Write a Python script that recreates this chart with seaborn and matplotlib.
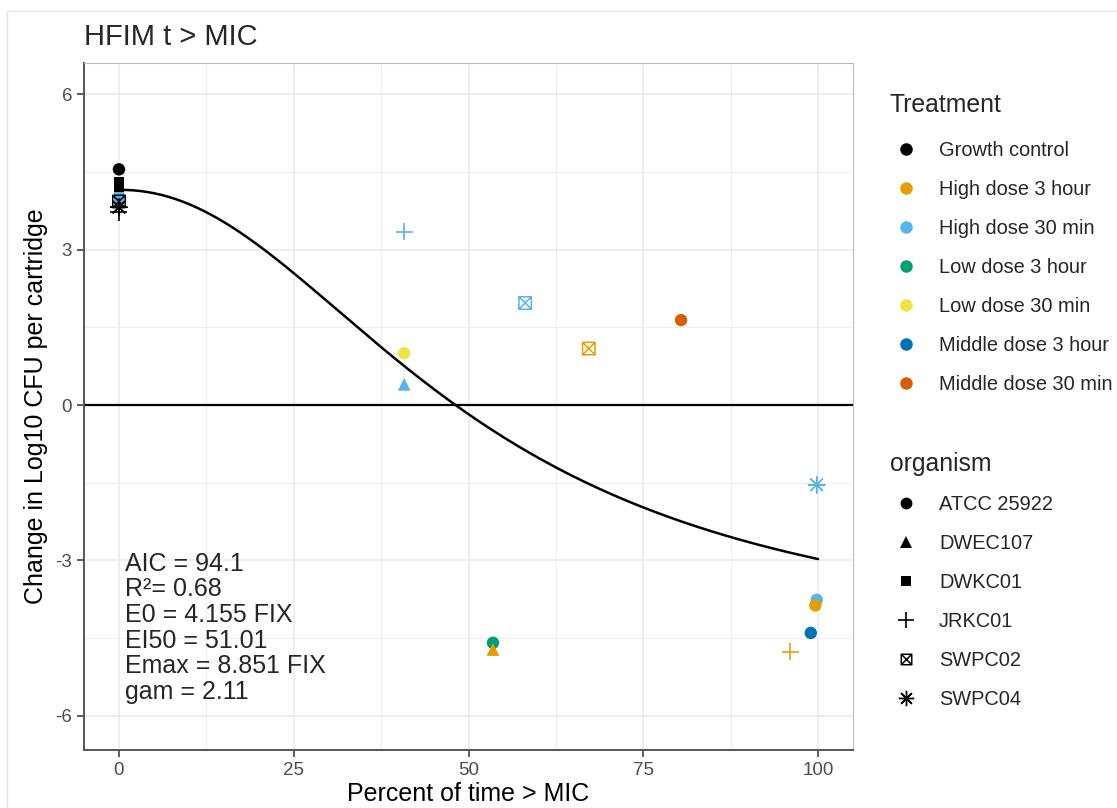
"""
HFIM t > MIC: change in log10 CFU vs percent of time above MIC
"""

import numpy as np
import pandas as pd
import seaborn as sns
import matplotlib.pyplot as plt
from matplotlib.path import Path
from matplotlib.lines import Line2D
from matplotlib.ticker import MultipleLocator

# data
pct_time = [0, 0, 0, 0, 0, 0, 0,
            40.8, 58.1, 67.2, 80.4, 40.8, 40.8, 53.5, 53.5,
            99.8, 99.8, 99.6, 98.95, 96.0]
log_change = [4.55, 4.30, 4.20, 4.00, 3.93, 3.82, 3.72,
              3.35, 1.97, 1.09, 1.64, 1.00, 0.40, -4.59, -4.72,
              -1.54, -3.76, -3.87, -4.40, -4.76]
treatment = ["Growth control", "Growth control", "Growth control", "High dose 30 min",
             "Growth control", "Growth control", "Growth control",
             "High dose 30 min", "High dose 30 min", "High dose 3 hour", "Middle dose 30 min",
             "Low dose 30 min", "High dose 30 min", "Low dose 3 hour", "High dose 3 hour",
             "High dose 30 min", "High dose 30 min", "High dose 3 hour", "Middle dose 3 hour",
             "High dose 3 hour"]
organism = ["ATCC 25922", "DWKC01", "DWKC01", "DWKC01", "SWPC02", "SWPC04", "JRKC01",
            "JRKC01", "SWPC02", "SWPC02", "ATCC 25922", "ATCC 25922", "DWEC107",
            "ATCC 25922", "DWEC107", "SWPC04", "ATCC 25922", "ATCC 25922", "ATCC 25922",
            "JRKC01"]

treatments = ["Growth control", "High dose 3 hour", "High dose 30 min", "Low dose 3 hour",
              "Low dose 30 min", "Middle dose 3 hour", "Middle dose 30 min"]
treatment_colors = ["#000000", "#E69F00", "#56B4E9", "#009E73", "#F0E442", "#0072B2", "#D55E00"]
organisms = ["ATCC 25922", "DWEC107", "DWKC01", "JRKC01", "SWPC02", "SWPC04"]

# sigmoid Emax fit parameters (as printed on the plot)
E0 = 4.155
EI50 = 51.01
EMAX = 8.851
GAM = 2.11
fit_text = ["AIC = 94.1", "R\u00b2= 0.68", "E0 = 4.155 FIX", "EI50 = 51.01",
            "Emax = 8.851 FIX", "gam = 2.11"]

# square with a cross inside (ggplot shape 7)
boxx = Path([(-1, -1), (1, -1), (1, 1), (-1, 1), (-1, -1), (-1, -1), (1, 1), (-1, 1), (1, -1)],
            [Path.MOVETO, Path.LINETO, Path.LINETO, Path.LINETO, Path.CLOSEPOLY,
             Path.MOVETO, Path.LINETO, Path.MOVETO, Path.LINETO])
# marker, scatter size, legend marker size, line width
shapes = {"ATCC 25922": ("o", 80, 8.5, 0), "DWEC107": ("^", 85, 9, 0),
          "DWKC01": ("s", 60, 7.5, 0), "JRKC01": ("+", 150, 11, 1.2),
          "SWPC02": (boxx, 80, 7.5, 1.1), "SWPC04": ((8, 2, 0), 140, 11, 1.0)}
line_art = ["JRKC01", "SWPC02", "SWPC04"]

sns.set_theme(style="white")
plt.rcParams["font.family"] = ["Liberation Sans", "DejaVu Sans"]
plt.rcParams["axes.unicode_minus"] = False

df = pd.DataFrame({"pct": pct_time, "change": log_change,
                   "Treatment": treatment, "organism": organism})
palette = dict(zip(treatments, treatment_colors))

fig = plt.figure(figsize=(11.17, 8.08), dpi=100)
ax = fig.add_axes([0.0752, 0.0718, 0.6885, 0.850])

# grid
ax.xaxis.set_major_locator(MultipleLocator(25))
ax.xaxis.set_minor_locator(MultipleLocator(12.5))
ax.yaxis.set_major_locator(MultipleLocator(3))
ax.yaxis.set_minor_locator(MultipleLocator(1.5))
ax.grid(which="major", color="#EBEBEB", lw=1.2)
ax.grid(which="minor", color="#EBEBEB", lw=0.6)
ax.set_axisbelow(True)

ax.axhline(0, color="black", lw=1.6, zorder=2)

x_fit = np.linspace(0, 100, 201)
y_fit = E0 - EMAX * x_fit ** GAM / (EI50 ** GAM + x_fit ** GAM)
sns.lineplot(x=x_fit, y=y_fit, color="black", lw=1.8, ax=ax, zorder=2)

for org in organisms:
    sub = df[df["organism"] == org]
    marker, size, _, lw = shapes[org]
    if org in line_art:
        sns.scatterplot(data=sub, x="pct", y="change", hue="Treatment", hue_order=treatments,
                        palette=palette, marker=marker, s=size, linewidth=lw,
                        legend=False, ax=ax, zorder=3)
        if org == "SWPC02":
            coll = ax.collections[-1]
            coll.set_edgecolors(coll.get_facecolors())
            coll.set_facecolors("none")
    else:
        sns.scatterplot(data=sub, x="pct", y="change", hue="Treatment", hue_order=treatments,
                        palette=palette, marker=marker, s=size, edgecolor="none",
                        legend=False, ax=ax, zorder=3)

ax.set_xlim(-5, 105)
ax.set_ylim(-6.66, 6.6)
ax.set_xlabel("Percent of time > MIC", fontsize=18, color="black", labelpad=2)
ax.set_ylabel("Change in Log10 CFU per cartridge", fontsize=18, color="black", labelpad=5)
ax.tick_params(axis="both", which="major", labelsize=13.5, labelcolor="#4D4D4D",
               length=5, width=1.1, color="#333333", bottom=True, left=True)
ax.tick_params(which="minor", length=0)
for side in ["left", "bottom"]:
    ax.spines[side].set_color("#555555")
    ax.spines[side].set_linewidth(1.4)
for side in ["top", "right"]:
    ax.spines[side].set_color("#BBBBBB")
    ax.spines[side].set_linewidth(0.8)

fig.text(84 / 1117, 1 - 37 / 808, "HFIM t > MIC", fontsize=21, va="center", ha="left")

for i, line in enumerate(fit_text):
    ax.text(0.0533, 0.271 - i * 0.0373, line, transform=ax.transAxes,
            fontsize=18, va="center", ha="left")

# legends
t_handles = [Line2D([], [], marker="o", ls="", color=c, markersize=9, markeredgewidth=0)
             for c in treatment_colors]
o_handles = []
for org in organisms:
    marker, _, msize, lw = shapes[org]
    if org in line_art:
        o_handles.append(Line2D([], [], marker=marker, ls="", markerfacecolor="none",
                                markeredgecolor="black", markersize=msize,
                                markeredgewidth=lw))
    else:
        o_handles.append(Line2D([], [], marker=marker, ls="", color="black",
                                markersize=msize, markeredgewidth=0))

leg_kw = dict(frameon=False, fontsize=14.4, handlelength=1.75, handletextpad=0.8,
              labelspacing=1.0, borderpad=0, borderaxespad=0, loc="upper left")
fig.text(890 / 1117, 1 - 105 / 808, "Treatment", fontsize=17.8, va="center", ha="left")
fig.legend(t_handles, treatments, bbox_to_anchor=(888 / 1117, 1 - 141 / 808), **leg_kw)
fig.text(890 / 1117, 1 - 464 / 808, "organism", fontsize=17.8, va="center", ha="left")
fig.legend(o_handles, organisms, bbox_to_anchor=(888 / 1117, 1 - 495 / 808), **leg_kw)

# light frame around the whole picture
fig.add_artist(Line2D([7 / 1117, 1], [1 - 11 / 808, 1 - 11 / 808],
                      transform=fig.transFigure, color="#E3E3E3", lw=1))
fig.add_artist(Line2D([7 / 1117, 7 / 1117], [0, 1 - 11 / 808],
                      transform=fig.transFigure, color="#E3E3E3", lw=1))

fig.savefig("out.png", dpi=100)
